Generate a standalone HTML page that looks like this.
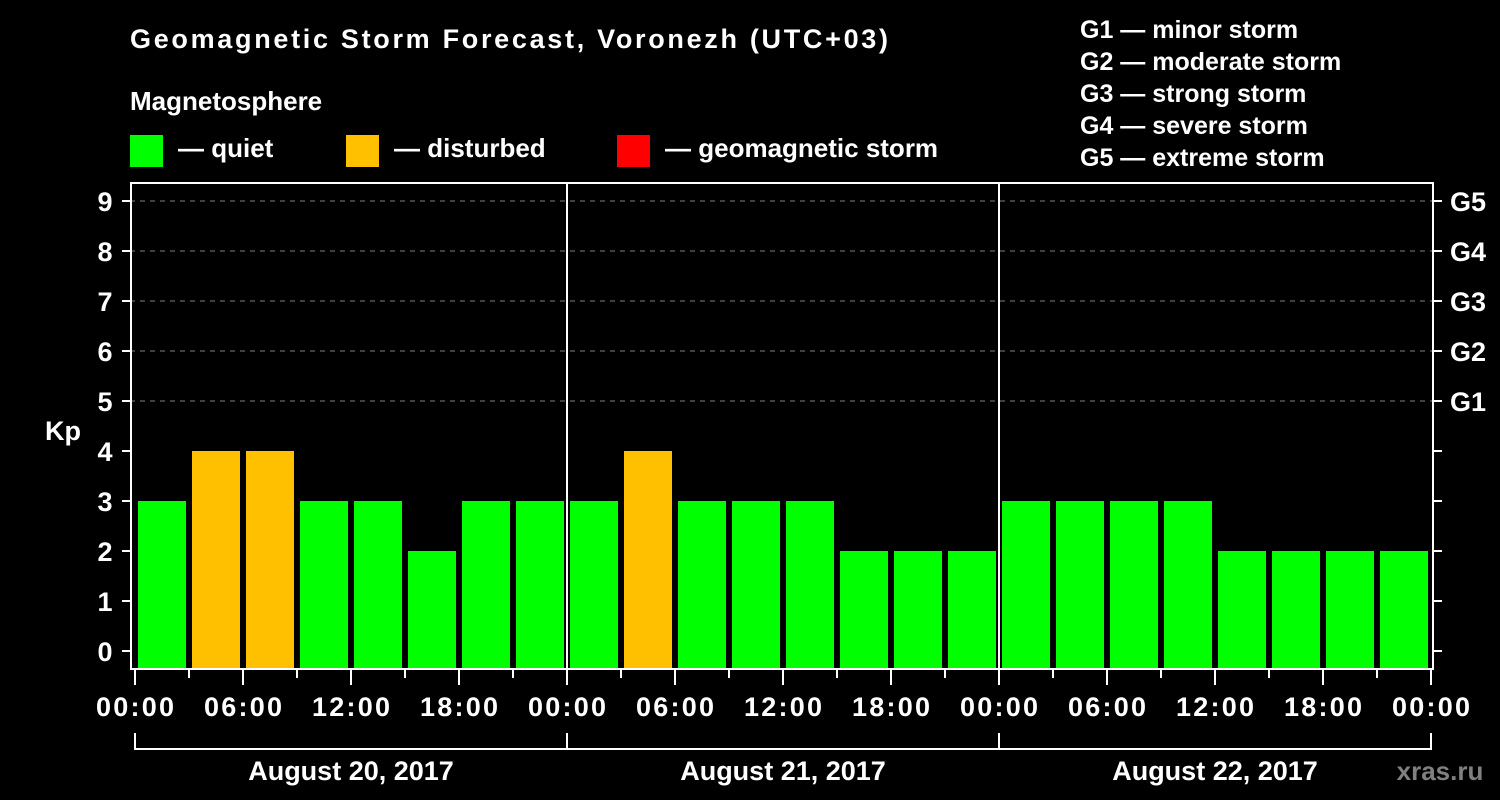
<!DOCTYPE html>
<html><head><meta charset="utf-8"><style>
html,body{margin:0;padding:0;background:#000;}
svg{display:block;font-family:"Liberation Sans",Arial,sans-serif;font-weight:bold;}
</style></head><body>
<svg id="chart" width="1500" height="800" viewBox="0 0 1500 800">
<rect x="0" y="0" width="1500" height="800" fill="#000"/>
<text x="130" y="48" fill="#fff" font-size="27" textLength="758">Geomagnetic Storm Forecast, Voronezh (UTC+03)</text>
<text x="130" y="110" fill="#fff" font-size="26">Magnetosphere</text>
<g><rect x="130" y="135" width="33" height="32" fill="#00ff00"/><text x="178" y="157" fill="#fff" font-size="26">— quiet</text></g>
<g><rect x="346" y="135" width="33" height="32" fill="#ffc000"/><text x="394" y="157" fill="#fff" font-size="26">— disturbed</text></g>
<g><rect x="617" y="135" width="33" height="32" fill="#ff0000"/><text x="665" y="157" fill="#fff" font-size="26">— geomagnetic storm</text></g>
<g fill="#fff" font-size="25">
<text x="1080" y="38">G1 — minor storm</text>
<text x="1080" y="70">G2 — moderate storm</text>
<text x="1080" y="102">G3 — strong storm</text>
<text x="1080" y="134">G4 — severe storm</text>
<text x="1080" y="166">G5 — extreme storm</text>
</g>
<text x="63" y="440" fill="#fff" font-size="27" text-anchor="middle">Kp</text>
<g id="grid"></g><g id="bars"></g><g id="axes"></g>
<text x="1440" y="780" fill="#808080" font-size="26" text-anchor="middle">xras.ru</text>
</svg>
<script>
const kpValues = [3,4,4,3,3,2,3,3, 3,4,3,3,3,2,2,2, 3,3,3,3,2,2,2,2];
const yTicks = [0,1,2,3,4,5,6,7,8,9];
const stormLabels = ["G1","G2","G3","G4","G5"];
const stormLevels = [5,6,7,8,9];
const hourLabels = ["00:00","06:00","12:00","18:00","00:00","06:00","12:00","18:00","00:00","06:00","12:00","18:00","00:00"];
const dayLabels = ["August 20, 2017","August 21, 2017","August 22, 2017"];

const NS="http://www.w3.org/2000/svg";
const X0=135, PXH=18, HOURS=72;
const xH = h => X0 + h*PXH;
const yV = v => 651 - 50*v;
const L=130, R=1434, T=183, B=668;
function mk(tag, attrs, parent, txt){const e=document.createElementNS(NS,tag);for(const k in attrs)e.setAttribute(k,attrs[k]);if(txt!==undefined)e.textContent=txt;parent.appendChild(e);return e;}
const grid=document.getElementById('grid'), bars=document.getElementById('bars'), axes=document.getElementById('axes');
stormLevels.forEach(v=>{
  const l=mk('line',{x1:L,x2:R,y1:yV(v),y2:yV(v),stroke:'#808080','stroke-width':1,'stroke-dasharray':'5,5'},grid);
  
  
});
const step = HOURS/kpValues.length;
kpValues.forEach((v,i)=>{
  const x1=xH(i*step)+3, x2=xH((i+1)*step)-3;
  const c = v>=5?'#ff0000':(v>=4?'#ffc000':'#00ff00');
  const r=mk('rect',{x:x1,y:yV(v),width:x2-x1,height:B-yV(v),fill:c},bars);
  
  
});
// frame
const fr=mk('rect',{x:L+1,y:T,width:R-L-2,height:B-T+1,fill:'none',stroke:'#fff','stroke-width':2},axes);


[24,48].forEach(h=>{
  const l=mk('line',{x1:xH(h),x2:xH(h),y1:T,y2:B,stroke:'#fff','stroke-width':2},axes);
  
  
});
yTicks.forEach(v=>{
  const y=yV(v);
  const t1=mk('line',{x1:122,x2:L,y1:y,y2:y,stroke:'#fff','stroke-width':2},axes);
  
  
  const t2=mk('line',{x1:R,x2:1442,y1:y,y2:y,stroke:'#fff','stroke-width':2},axes);
  
  
  const tx=mk('text',{x:105,y:y+10,fill:'#fff','font-size':27,'text-anchor':'middle'},axes,String(v));
  
  
});
stormLevels.forEach((v,i)=>{
  const tx=mk('text',{x:1450,y:yV(v)+10,fill:'#fff','font-size':27},axes,stormLabels[i]);
  
  
});
for(let h=0;h<=HOURS;h+=3){
  const major=h%6===0;
  const l=mk('line',{x1:xH(h),x2:xH(h),y1:B,y2:major?685:678,stroke:'#fff','stroke-width':2},axes);
  
  
}
hourLabels.forEach((s,i)=>{
  const tx=mk('text',{x:xH(i*6),y:716,fill:'#fff','font-size':27,'text-anchor':'middle',textLength:78},axes,s);
  
  
});
const br=mk('line',{x1:xH(0),x2:xH(HOURS),y1:749,y2:749,stroke:'#fff','stroke-width':2},axes);


for(let d=0;d<=dayLabels.length;d++){
  const l=mk('line',{x1:xH(d*24),x2:xH(d*24),y1:733,y2:750,stroke:'#fff','stroke-width':2},axes);
  
  
}
dayLabels.forEach((s,d)=>{
  const tx=mk('text',{x:xH(d*24+12),y:780,fill:'#fff','font-size':27,'text-anchor':'middle'},axes,s);
  
  
});
</script>
</body></html>
